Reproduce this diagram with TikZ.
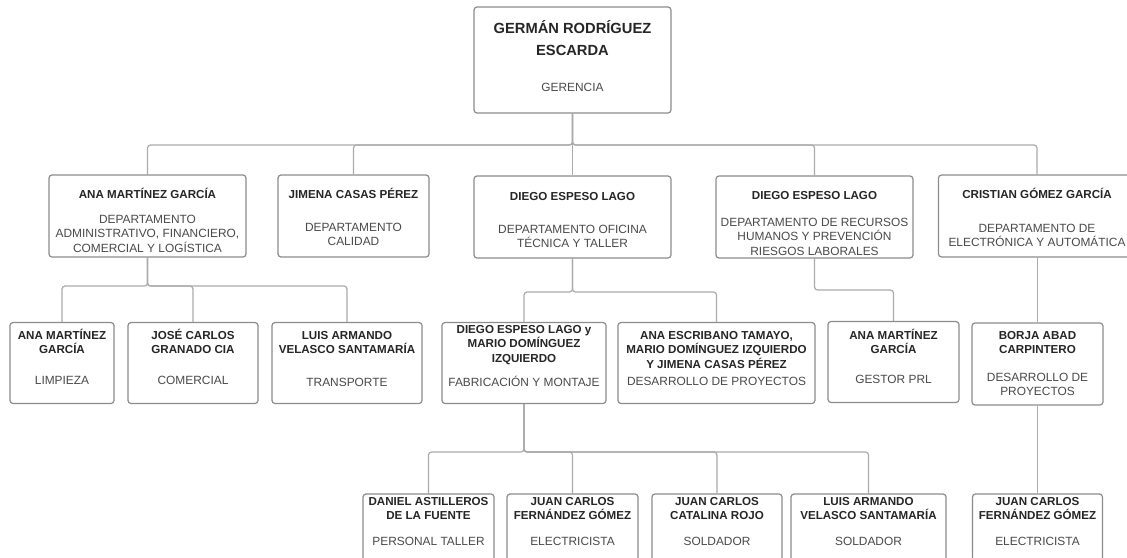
\documentclass[tikz,border=0pt]{standalone}
\usepackage{fontspec}
\setmainfont{Liberation Sans}
\definecolor{boxgray}{HTML}{8C8C8C}
\definecolor{linegray}{HTML}{ABABAB}
\definecolor{namecol}{HTML}{262626}
\definecolor{desccol}{HTML}{4A4A4A}
\tikzset{
  box/.style={draw=boxgray, line width=1.2pt, rounded corners=3pt, fill=white, inner sep=0pt},
  conn/.style={draw=linegray, line width=1.2pt, rounded corners=3pt},
  nm/.style={font=\fontsize{11.6}{14.5}\selectfont\bfseries, text=namecol, align=center, inner sep=0pt, anchor=north},
  ds/.style={font=\fontsize{11.9}{14.5}\selectfont, text=desccol, align=center, inner sep=0pt, anchor=north},
}
\newcommand\orgbox[5]{\node[box, minimum width=#4pt, minimum height=#5pt] (#1) at (#2,#3) {};}
\newcommand\orgtext[6]{%
  \node[nm] (#1-n) at (#2,#3-11) {\rule{0pt}{11pt}#4};
  \node[ds] (#1-d) at (#2,#5-11) {\rule{0pt}{11pt}#6};}
\begin{document}
\begin{tikzpicture}[x=1pt,y=-1pt]
\useasboundingbox (0,0) rectangle (1127,557);
\fill[white] (0,0) rectangle (1127,557);
\clip (0,0) rectangle (1127,557);
% boxes
\orgbox{top}{572.5}{60}{197}{106}
\orgbox{A}{147.5}{216}{197}{82}
\orgbox{B}{353.5}{216}{151}{82}
\orgbox{C}{572.5}{217}{197}{82}
\orgbox{D}{814.5}{217}{197}{82}
\orgbox{E}{1037}{216}{197}{82}
\orgbox{L1}{62}{363}{104}{81}
\orgbox{L2}{193}{363}{130}{81}
\orgbox{L3}{347}{363}{150}{81}
\orgbox{F}{524}{363}{164}{81}
\orgbox{G}{716.5}{363}{197}{81}
\orgbox{H}{893.5}{362}{131}{81}
\orgbox{I}{1037.5}{364}{131}{82}
\orgbox{J}{428.5}{535}{131}{82}
\orgbox{K}{572.5}{535}{131}{82}
\orgbox{L}{717}{535}{130}{82}
\orgbox{M}{868.5}{535}{155}{82}
\orgbox{N}{1037.5}{535}{130}{82}
% connectors
\coordinate (bus0) at (572.5,145);
\draw[conn] (top.south) -- (bus0) -| (A.north);
\draw[conn] (top.south) -- (bus0) -| (B.north);
\draw[conn] (top.south) -- (C.north);
\draw[conn] (top.south) -- (bus0) -| (D.north);
\draw[conn] (top.south) -- (bus0) -| (E.north);
\coordinate (busA) at (147.5,286);
\draw[conn] (A.south) -- (busA) -| (L1.north);
\draw[conn] (A.south) -- (busA) -| (L2.north);
\draw[conn] (A.south) -- (busA) -| (L3.north);
\coordinate (busC) at (572.5,292);
\draw[conn] (C.south) -- (busC) -| (F.north);
\draw[conn] (C.south) -- (busC) -| (G.north);
\coordinate (busD) at (814.5,290);
\draw[conn] (D.south) -- (busD) -| (H.north);
\draw[conn] (E.south -| I.north) -- (I.north);
\coordinate (busF) at (524,452);
\draw[conn] (F.south) -- (busF) -| (J.north);
\draw[conn] (F.south) -- (busF) -| (K.north);
\draw[conn] (F.south) -- (busF) -| (L.north);
\draw[conn] (F.south) -- (busF) -| (M.north);
\draw[conn] (I.south) -- (N.north);
% texts
\node[nm, font=\fontsize{14.7}{22}\selectfont\bfseries] (top-n) at (572.5,33-14) {\rule{0pt}{14pt}GERMÁN RODRÍGUEZ\\ESCARDA};
\node[ds] (top-d) at (572.5,91-11) {\rule{0pt}{11pt}GERENCIA};
\orgtext{A}{147.5}{198}{ANA MARTÍNEZ GARCÍA}{223}{DEPARTAMENTO\\ADMINISTRATIVO, FINANCIERO,\\COMERCIAL Y LOGÍSTICA}
\orgtext{B}{353.5}{198}{JIMENA CASAS PÉREZ}{231}{DEPARTAMENTO\\CALIDAD}
\orgtext{C}{572.5}{200}{DIEGO ESPESO LAGO}{233}{DEPARTAMENTO OFICINA\\TÉCNICA Y TALLER}
\orgtext{D}{814.5}{199}{DIEGO ESPESO LAGO}{226}{DEPARTAMENTO DE RECURSOS\\HUMANOS Y PREVENCIÓN\\RIESGOS LABORALES}
\orgtext{E}{1037}{198}{CRISTIAN GÓMEZ GARCÍA}{232}{DEPARTAMENTO DE\\ELECTRÓNICA Y AUTOMÁTICA}
\orgtext{L1}{62}{339}{ANA MARTÍNEZ\\GARCÍA}{384}{LIMPIEZA}
\orgtext{L2}{193}{339}{JOSÉ CARLOS\\GRANADO CIA}{384}{COMERCIAL}
\orgtext{L3}{347}{339}{LUIS ARMANDO\\VELASCO SANTAMARÍA}{386}{TRANSPORTE}
\orgtext{F}{524}{333}{DIEGO ESPESO LAGO y\\MARIO DOMÍNGUEZ\\IZQUIERDO}{386}{FABRICACIÓN Y MONTAJE}
\orgtext{G}{716.5}{339}{ANA ESCRIBANO TAMAYO,\\MARIO DOMÍNGUEZ IZQUIERDO\\Y JIMENA CASAS PÉREZ}{385}{DESARROLLO DE PROYECTOS}
\orgtext{H}{893.5}{339}{ANA MARTÍNEZ\\GARCÍA}{383}{GESTOR PRL}
\orgtext{I}{1037.5}{339}{BORJA ABAD\\CARPINTERO}{381}{DESARROLLO DE\\PROYECTOS}
\orgtext{J}{428.5}{505}{DANIEL ASTILLEROS\\DE LA FUENTE}{545}{PERSONAL TALLER}
\orgtext{K}{572.5}{505}{JUAN CARLOS\\FERNÁNDEZ GÓMEZ}{545}{ELECTRICISTA}
\orgtext{L}{717}{505}{JUAN CARLOS\\CATALINA ROJO}{545}{SOLDADOR}
\orgtext{M}{868.5}{505}{LUIS ARMANDO\\VELASCO SANTAMARÍA}{545}{SOLDADOR}
\orgtext{N}{1037.5}{505}{JUAN CARLOS\\FERNÁNDEZ GÓMEZ}{545}{ELECTRICISTA}
\end{tikzpicture}
\end{document}
